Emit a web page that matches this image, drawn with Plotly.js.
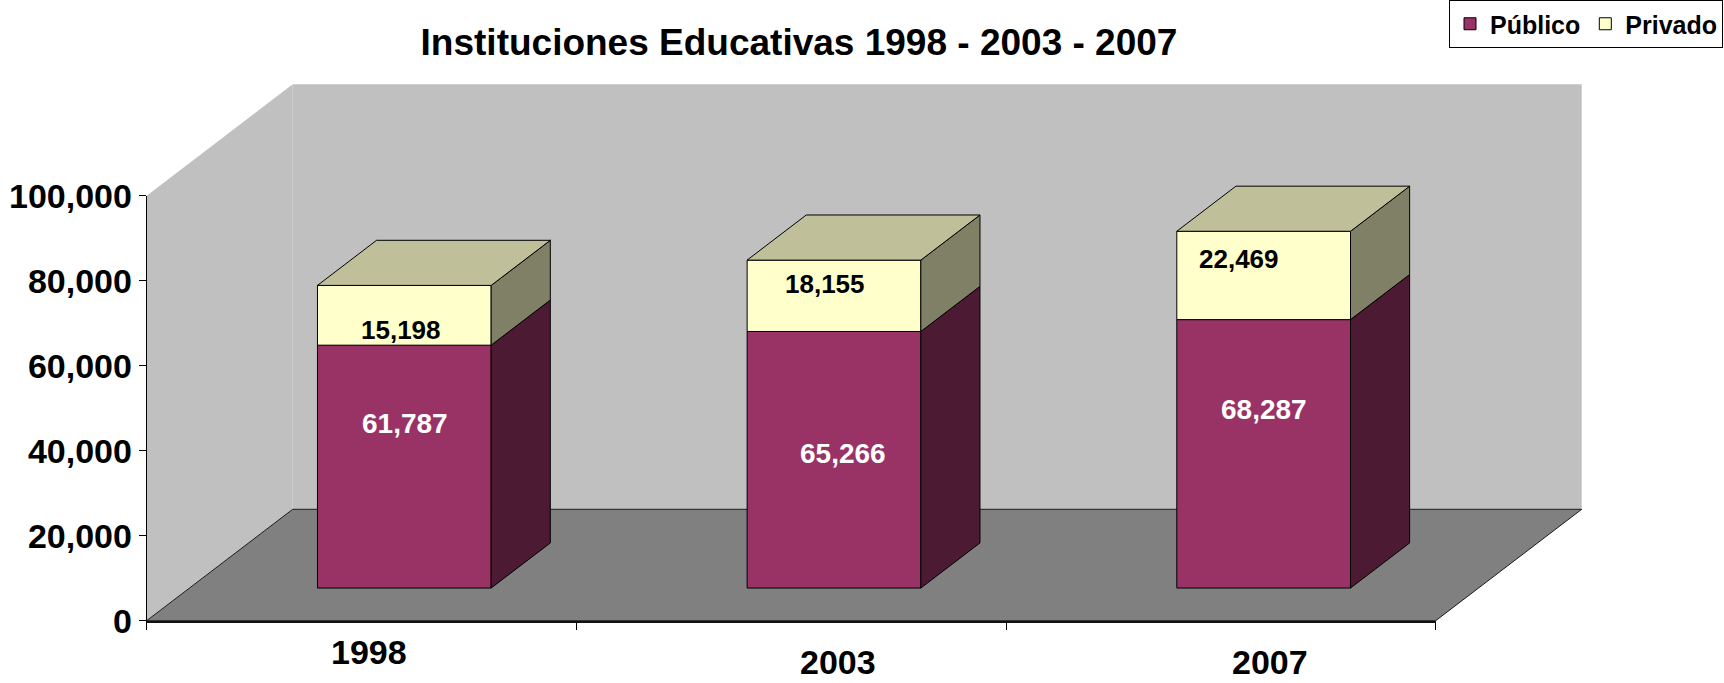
<!DOCTYPE html>
<html>
<head>
<meta charset="utf-8">
<script src="https://cdn.plot.ly/plotly-3.0.1.min.js"></script>
<style>
html,body{margin:0;padding:0;background:#ffffff;}
#chart{width:1724px;height:683px;}
</style>
</head>
<body>
<div id="chart"></div>
<script>
// ---------------- data ----------------
const categories = ['1998', '2003', '2007'];
const publico = [61787, 65266, 68287];
const privado = [15198, 18155, 22469];
const yTickVals = [0, 20000, 40000, 60000, 80000, 100000];
const seriesNames = ['Público', 'Privado'];

// ---------------- geometry / style ----------------
const W = 1724, H = 683;
const X_PX0 = 146.7, X_PX_PER = 429.67;   // pixel of front x = -0.5, pixels per category
const Y_PX0 = 620.7, Y_PX_PER = 0.00425;  // pixel of value 0, pixels per value unit
const DX = 146 / X_PX_PER;                // oblique depth offset (category units)
const DY = 111.4 / Y_PX_PER;              // oblique depth offset (value units)
const D0 = 0.293, DD = 0.405, BW = 0.4043;// bar front depth, bar depth, bar width
const S = 0.925;                          // 3D foreshortening of bars at their depth
const FONT = 'Liberation Sans, Arial, sans-serif';

const xmin = -0.5 - X_PX0 / X_PX_PER, xmax = xmin + W / X_PX_PER;
const ymin = -(H - Y_PX0) / Y_PX_PER, ymax = ymin + H / Y_PX_PER;
const yTop = yTickVals[yTickVals.length - 1];

const nCat = categories.length;
const idx = categories.map((c, i) => i);
const xFront = idx.map(i => i + D0 * DX);
const base0 = D0 * DY;
const pubH = publico.map(v => v * S);
const privH = privado.map(v => v * S);
const pubBase = idx.map(() => base0);
const privBase = pubH.map(h => base0 + h);

const colors = {
  pub: '#993366', pubSide: '#4C1A33',
  priv: '#FFFFCC', privSide: '#808066', privTop: '#BFBF99',
  wall: '#C0C0C0', floor: '#808080'
};

// polygon helpers
function sidePolys(bases, heights) {
  const xs = [], ys = [];
  idx.forEach(i => {
    const xr = xFront[i] + BW / 2, yb = bases[i], yt = bases[i] + heights[i];
    xs.push(xr, xr + DD * DX, xr + DD * DX, xr, xr, null);
    ys.push(yb, yb + DD * DY, yt + DD * DY, yt, yb, null);
  });
  return {x: xs, y: ys};
}
function topPolys(bases, heights) {
  const xs = [], ys = [];
  idx.forEach(i => {
    const xl = xFront[i] - BW / 2, xr = xFront[i] + BW / 2, yt = bases[i] + heights[i];
    xs.push(xl, xr, xr + DD * DX, xl + DD * DX, xl, null);
    ys.push(yt, yt, yt + DD * DY, yt + DD * DY, yt, null);
  });
  return {x: xs, y: ys};
}

const outline = {color: '#000000', width: 1};
const traces = [];
// front faces (bars)
traces.push({type: 'bar', name: seriesNames[0], x: xFront, y: pubH, base: pubBase, width: BW,
  marker: {color: colors.pub, line: outline}, xaxis: 'x', yaxis: 'y', hoverinfo: 'skip'});
traces.push({type: 'bar', name: seriesNames[1], x: xFront, y: privH, base: privBase, width: BW,
  marker: {color: colors.priv, line: outline}, xaxis: 'x', yaxis: 'y', hoverinfo: 'skip'});
// side faces and top
const ps = sidePolys(pubBase, pubH);
traces.push({type: 'scatter', mode: 'lines', x: ps.x, y: ps.y, fill: 'toself', fillcolor: colors.pubSide,
  line: outline, showlegend: false, hoverinfo: 'skip', xaxis: 'x', yaxis: 'y'});
const vs = sidePolys(privBase, privH);
traces.push({type: 'scatter', mode: 'lines', x: vs.x, y: vs.y, fill: 'toself', fillcolor: colors.privSide,
  line: outline, showlegend: false, hoverinfo: 'skip', xaxis: 'x', yaxis: 'y'});
const vt = topPolys(privBase, privH);
traces.push({type: 'scatter', mode: 'lines', x: vt.x, y: vt.y, fill: 'toself', fillcolor: colors.privTop,
  line: outline, showlegend: false, hoverinfo: 'skip', xaxis: 'x', yaxis: 'y'});

// walls & floor
const xL = -0.5, xR = nCat - 0.5;
const p = (pts) => 'M' + pts.map(q => q[0] + ',' + q[1]).join(' L') + ' Z';
const shapes = [
  {type: 'path', xref: 'x', yref: 'y', layer: 'below', fillcolor: colors.wall, line: {width: 0},
   path: p([[xL + DX, DY], [xR + DX, DY], [xR + DX, yTop + DY], [xL + DX, yTop + DY]])},
  {type: 'path', xref: 'x', yref: 'y', layer: 'below', fillcolor: colors.wall, line: {width: 0},
   path: p([[xL, 0], [xL, yTop], [xL + DX, yTop + DY], [xL + DX, DY]])},
  {type: 'path', xref: 'x', yref: 'y', layer: 'below', fillcolor: colors.floor, line: {color: '#1a1a1a', width: 1},
   path: p([[xL, 0], [xR, 0], [xR + DX, DY], [xL + DX, DY]])}
];

// data labels
const fmt = v => v.toLocaleString('en-US');
const pubLabelShift = [[1, 43], [9, 6.5], [0, 44]];
const privLabelShift = [[-3, -14.5], [-9, 11.5], [-25, 16]];
const catLabelDx = [0.017, 0.108, 0.114];
const catLabelYpx = [652, 662, 662];
const annotations = [];
idx.forEach(i => {
  annotations.push({xref: 'x', yref: 'y', x: xFront[i], y: pubBase[i] + pubH[i] / 2,
    xshift: pubLabelShift[i][0], yshift: pubLabelShift[i][1], showarrow: false, text: fmt(publico[i]),
    font: {family: FONT, size: 28, color: '#ffffff', weight: 'bold'}});
  annotations.push({xref: 'x', yref: 'y', x: xFront[i], y: privBase[i] + privH[i] / 2,
    xshift: privLabelShift[i][0], yshift: privLabelShift[i][1], showarrow: false, text: fmt(privado[i]),
    font: {family: FONT, size: 26, color: '#000000', weight: 'bold'}});
  annotations.push({xref: 'x', yref: 'paper', x: i + catLabelDx[i], y: 1 - catLabelYpx[i] / H,
    yanchor: 'middle', xanchor: 'center', showarrow: false, text: categories[i],
    font: {family: FONT, size: 34, color: '#000000', weight: 'bold'}});
});

const layout = {
  width: W, height: H,
  margin: {l: 0, r: 0, t: 0, b: 0, autoexpand: false},
  paper_bgcolor: '#ffffff', plot_bgcolor: 'rgba(0,0,0,0)',
  barmode: 'overlay',
  showlegend: true,
  title: {text: 'Instituciones Educativas 1998 - 2003 - 2007',
    font: {family: FONT, size: 37, color: '#000000', weight: 'bold'},
    x: 799 / W, xanchor: 'center', y: 1 - 42 / H, yanchor: 'middle'},
  legend: {orientation: 'h', x: 1449 / W, xanchor: 'left', y: 1, yanchor: 'top',
    bgcolor: '#ffffff', bordercolor: '#000000', borderwidth: 1, traceorder: 'normal',
    font: {family: FONT, size: 25, color: '#000000', weight: 'bold'}},
  xaxis: {domain: [0, 1], range: [xmin, xmax], visible: false, fixedrange: true},
  yaxis: {domain: [0, 1], range: [ymin, ymax], visible: false, fixedrange: true},
  xaxis2: {domain: [X_PX0 / W, (X_PX0 + nCat * X_PX_PER) / W], range: [-0.5, nCat - 0.5], anchor: 'y2',
    tickmode: 'array', tickvals: [-0.5].concat(idx.map(i => i + 0.5)), showticklabels: false,
    ticks: 'outside', ticklen: 7, tickcolor: '#000000', showline: true, linecolor: '#111111', linewidth: 2,
    showgrid: false, zeroline: false, fixedrange: true},
  yaxis2: {domain: [(H - Y_PX0) / H, (H - (Y_PX0 - yTop * Y_PX_PER)) / H], range: [0, yTop], anchor: 'x2',
    tickmode: 'array', tickvals: yTickVals, tickformat: ',d',
    ticks: 'outside', ticklen: 7, tickcolor: '#000000', showline: true, linecolor: '#000000', linewidth: 1,
    showgrid: false, zeroline: false, fixedrange: true,
    tickfont: {family: FONT, size: 34, color: '#000000', weight: 'bold'}},
  shapes: shapes,
  annotations: annotations
};

// empty carrier for the visible front axes
traces.push({type: 'scatter', x: [], y: [], xaxis: 'x2', yaxis: 'y2', showlegend: false, hoverinfo: 'skip'});

Plotly.newPlot('chart', traces, layout, {staticPlot: true, displayModeBar: false});
</script>
</body>
</html>
